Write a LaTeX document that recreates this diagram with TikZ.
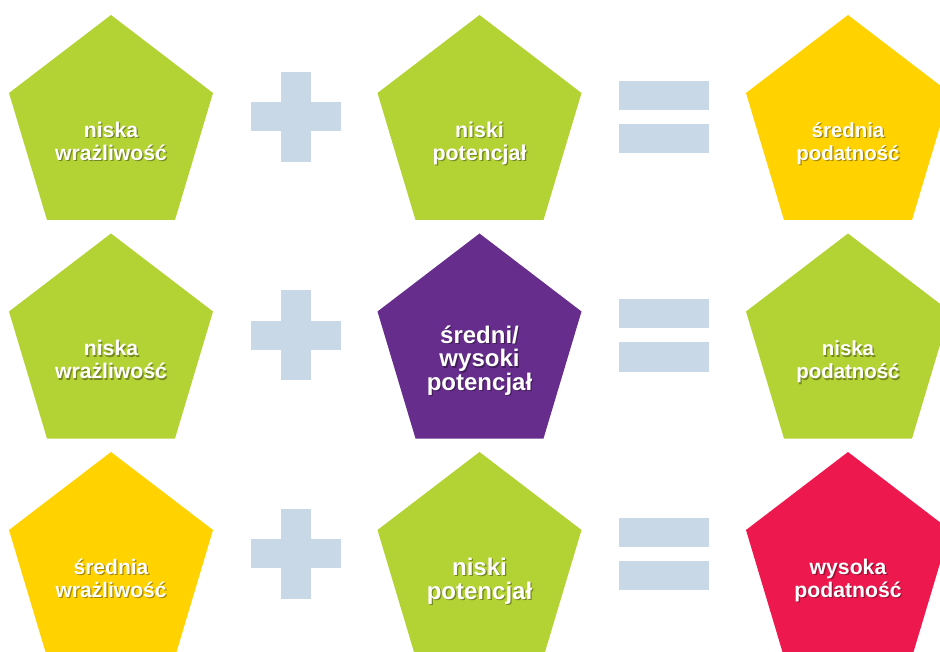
\documentclass[tikz,border=0pt]{standalone}
\usepackage{fontspec}
\setmainfont{Liberation Sans}
\definecolor{pgreen}{RGB}{179,210,52}
\definecolor{pyellow}{RGB}{255,210,0}
\definecolor{ppurple}{RGB}{102,45,140}
\definecolor{pred}{RGB}{237,25,78}
\definecolor{psign}{RGB}{201,216,230}
\tikzset{
  lbl/.style={text=white, align=center, inner sep=0pt, anchor=base},
  shd/.style={text=black, opacity=0.35, align=center, inner sep=0pt, anchor=base},
  signbar/.style={fill=psign, draw=none}
}
% #1 name, #2 cx, #3 top, #4 colour, #5 font size, #6 line skip, #7 last baseline offset, #8 text
\newcommand{\pentagonbox}[8]{%
  \fill[#4] (#2,#3) -- ++(102,78) -- ++(-38,127) -- ++(-128,0) -- ++(-38,-127) -- cycle;
  \node[shd, font={\bfseries\fontsize{#5}{#6}\selectfont}] (#1s) at ({#2+1.3},{#3+#7+1.6}) {#8};
  \node[lbl, font={\bfseries\fontsize{#5}{#6}\selectfont}] (#1) at (#2,{#3+#7}) {#8};
}
% #1 name, #2 cx, #3 cy
\newcommand{\plussign}[3]{%
  \fill[signbar] ({#2-15},{#3-45}) rectangle ({#2+15},{#3+45});
  \fill[signbar] ({#2-45},{#3-14.5}) rectangle ({#2+45},{#3+14.5});
  \coordinate (#1) at (#2,#3);
}
% #1 name, #2 top
\newcommand{\equalsign}[2]{%
  \fill[signbar] (619,{#2+66}) rectangle (709,{#2+95});
  \fill[signbar] (619,{#2+109}) rectangle (709,{#2+138});
  \coordinate (#1) at (664,{#2+102});
}
\begin{document}
\begin{tikzpicture}[x=1pt,y=-1pt]
\useasboundingbox (0,0) rectangle (940,652);
\clip (0,0) rectangle (940,652);
% row 1
\pentagonbox{a1}{111}{15}{pgreen}{21.2}{23}{145.3}{niska\\wrażliwość}
\plussign{p1}{295.7}{116.7}
\pentagonbox{b1}{479.5}{15}{pgreen}{21.4}{23}{145.3}{niski\\potencjał}
\equalsign{e1}{15}
\pentagonbox{c1}{848}{15}{pyellow}{20.4}{23}{145.3}{średnia\\podatność}
% row 2
\pentagonbox{a2}{111}{233.5}{pgreen}{21.2}{23}{145.3}{niska\\wrażliwość}
\plussign{p2}{295.7}{335.2}
\pentagonbox{b2}{479.5}{233.5}{ppurple}{24}{23.5}{156.5}{średni/\\wysoki\\potencjał}
\equalsign{e2}{233.5}
\pentagonbox{c2}{848}{233.5}{pgreen}{20.4}{23}{145.3}{niska\\podatność}
% row 3
\pentagonbox{a3}{111}{452}{pyellow}{21}{23}{145.3}{średnia\\wrażliwość}
\plussign{p3}{295.7}{553.7}
\pentagonbox{b3}{479.5}{452}{pgreen}{24}{24}{147}{niski\\potencjał}
\equalsign{e3}{452}
\pentagonbox{c3}{848}{452}{pred}{21.2}{23}{145.3}{wysoka\\podatność}
\end{tikzpicture}
\end{document}
